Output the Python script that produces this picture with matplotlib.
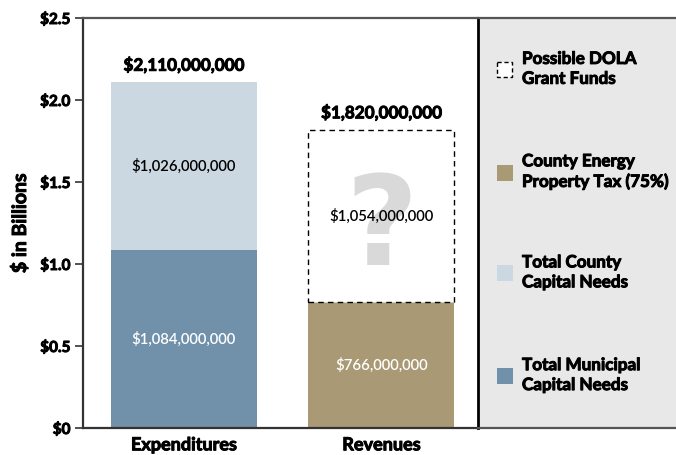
import matplotlib
matplotlib.use("Agg")
import matplotlib.pyplot as plt
import matplotlib.patheffects as pe
from matplotlib.patches import Rectangle

plt.rcParams['font.family'] = ['Lato', 'DejaVu Sans']

# data (billions of dollars)
groups = ["Expenditures", "Revenues"]
municipal = [1.084, 0.0]
county = [1.026, 0.0]
energy_tax = [0.0, 0.766]
dola = [0.0, 1.054]
totals = [2.110, 1.820]
total_labels = ["$2,110,000,000", "$1,820,000,000"]
yticks = [0, 0.5, 1.0, 1.5, 2.0, 2.5]
ytick_labels = ["$0", "$0.5", "$1.0", "$1.5", "$2.0", "$2.5"]

legend_names = ["Possible DOLA\nGrant Funds", "County Energy\nProperty Tax (75%)",
                "Total County\nCapital Needs", "Total Municipal\nCapital Needs"]

c_muni = "#7191ab"
c_county = "#cbd7e1"
c_tax = "#a99a75"
c_bg = "#e8e8e8"

# thicken the bold text a little, the original uses a heavy face
heavy = [pe.withStroke(linewidth=0.7, foreground="black")]

W, H = 676, 455
fig = plt.figure(figsize=(W / 100, H / 100), dpi=100)
ax = fig.add_axes([83 / W, 27 / H, 395 / W, 410 / H])
lax = fig.add_axes([478 / W, 27 / H, 198 / W, 410 / H])

x = [0, 1]
bw = 0.74
ax.bar(x[0], municipal[0], bw, color=c_muni, zorder=2)
ax.bar(x[0], county[0], bw, bottom=municipal[0], color=c_county, zorder=2)
ax.bar(x[1], energy_tax[1], bw, color=c_tax, zorder=2)
ax.bar(x[1], dola[1], bw, bottom=energy_tax[1], facecolor="white",
       edgecolor="black", linestyle=(0, (4, 3)), linewidth=1.0, zorder=2)

# big question mark in the DOLA box
ax.text(x[1], energy_tax[1] + dola[1] / 2 - 0.09, "?", ha="center", va="center",
        fontsize=90, color="#d9d9d9", fontweight="bold", family=["DejaVu Sans"],
        zorder=3)

# inner labels
inner = [(x[0], municipal[0] / 2, municipal[0], "white"),
         (x[0], municipal[0] + county[0] / 2, county[0], "black"),
         (x[1], energy_tax[1] / 2, energy_tax[1], "white"),
         (x[1], energy_tax[1] + dola[1] / 2, dola[1], "black")]
for xi, yi, v, col in inner:
    ax.text(xi, yi, f"${v*1e9:,.0f}", ha="center", va="center", color=col,
            fontsize=10.7, fontweight="semibold", zorder=4)

for xi, t, lab in zip(x, totals, total_labels):
    ax.text(xi, t + 0.05, lab, ha="center", va="bottom", fontsize=12.3,
            fontweight="bold", path_effects=heavy)

ax.set_xlim(-0.511, 1.489)
ax.set_ylim(0, 2.5)
ax.set_yticks(yticks)
ax.set_yticklabels(ytick_labels, fontsize=11, fontweight="bold")
ax.set_xticks(x)
ax.set_xticklabels(groups, fontsize=13, fontweight="bold")
for t in ax.get_xticklabels() + ax.get_yticklabels():
    t.set_path_effects(heavy)
ax.tick_params(axis="x", length=0, pad=6)
ax.tick_params(axis="y", length=6, width=1.2, color="#333333", pad=3)
ax.set_ylabel("$ in Billions", fontsize=14, fontweight="bold", labelpad=8,
              path_effects=heavy)
for s in ["left", "bottom"]:
    ax.spines[s].set_color("#333333")
    ax.spines[s].set_linewidth(1.6)
ax.spines["top"].set_color("#555555")
ax.spines["top"].set_linewidth(1.6)
ax.spines["right"].set_visible(False)

# legend panel
lax.set_facecolor(c_bg)
lax.set_xlim(0, 198)
lax.set_ylim(411, 0)
lax.set_xticks([])
lax.set_yticks([])
lax.spines["left"].set_color("black")
lax.spines["left"].set_linewidth(2.0)
lax.spines["right"].set_visible(False)
for s in ["top", "bottom"]:
    lax.spines[s].set_color("#555555")
    lax.spines[s].set_linewidth(1.6)

leg_faces = ["white", c_tax, c_county, c_muni]
leg_y = [52, 155, 256, 359]
for name, fc, yy in zip(legend_names, leg_faces, leg_y):
    if fc == "white":
        lax.add_patch(Rectangle((19, yy - 8), 15, 15, facecolor="white", edgecolor="black",
                                linestyle=(0, (3, 2)), linewidth=1.0))
    else:
        lax.add_patch(Rectangle((19, yy - 8), 16, 16, facecolor=fc, edgecolor="none"))
    lax.text(44, yy - 1, name, ha="left", va="center", fontsize=12.3, fontweight="bold",
             linespacing=1.3, path_effects=heavy)

fig.savefig("out.png", dpi=100)
